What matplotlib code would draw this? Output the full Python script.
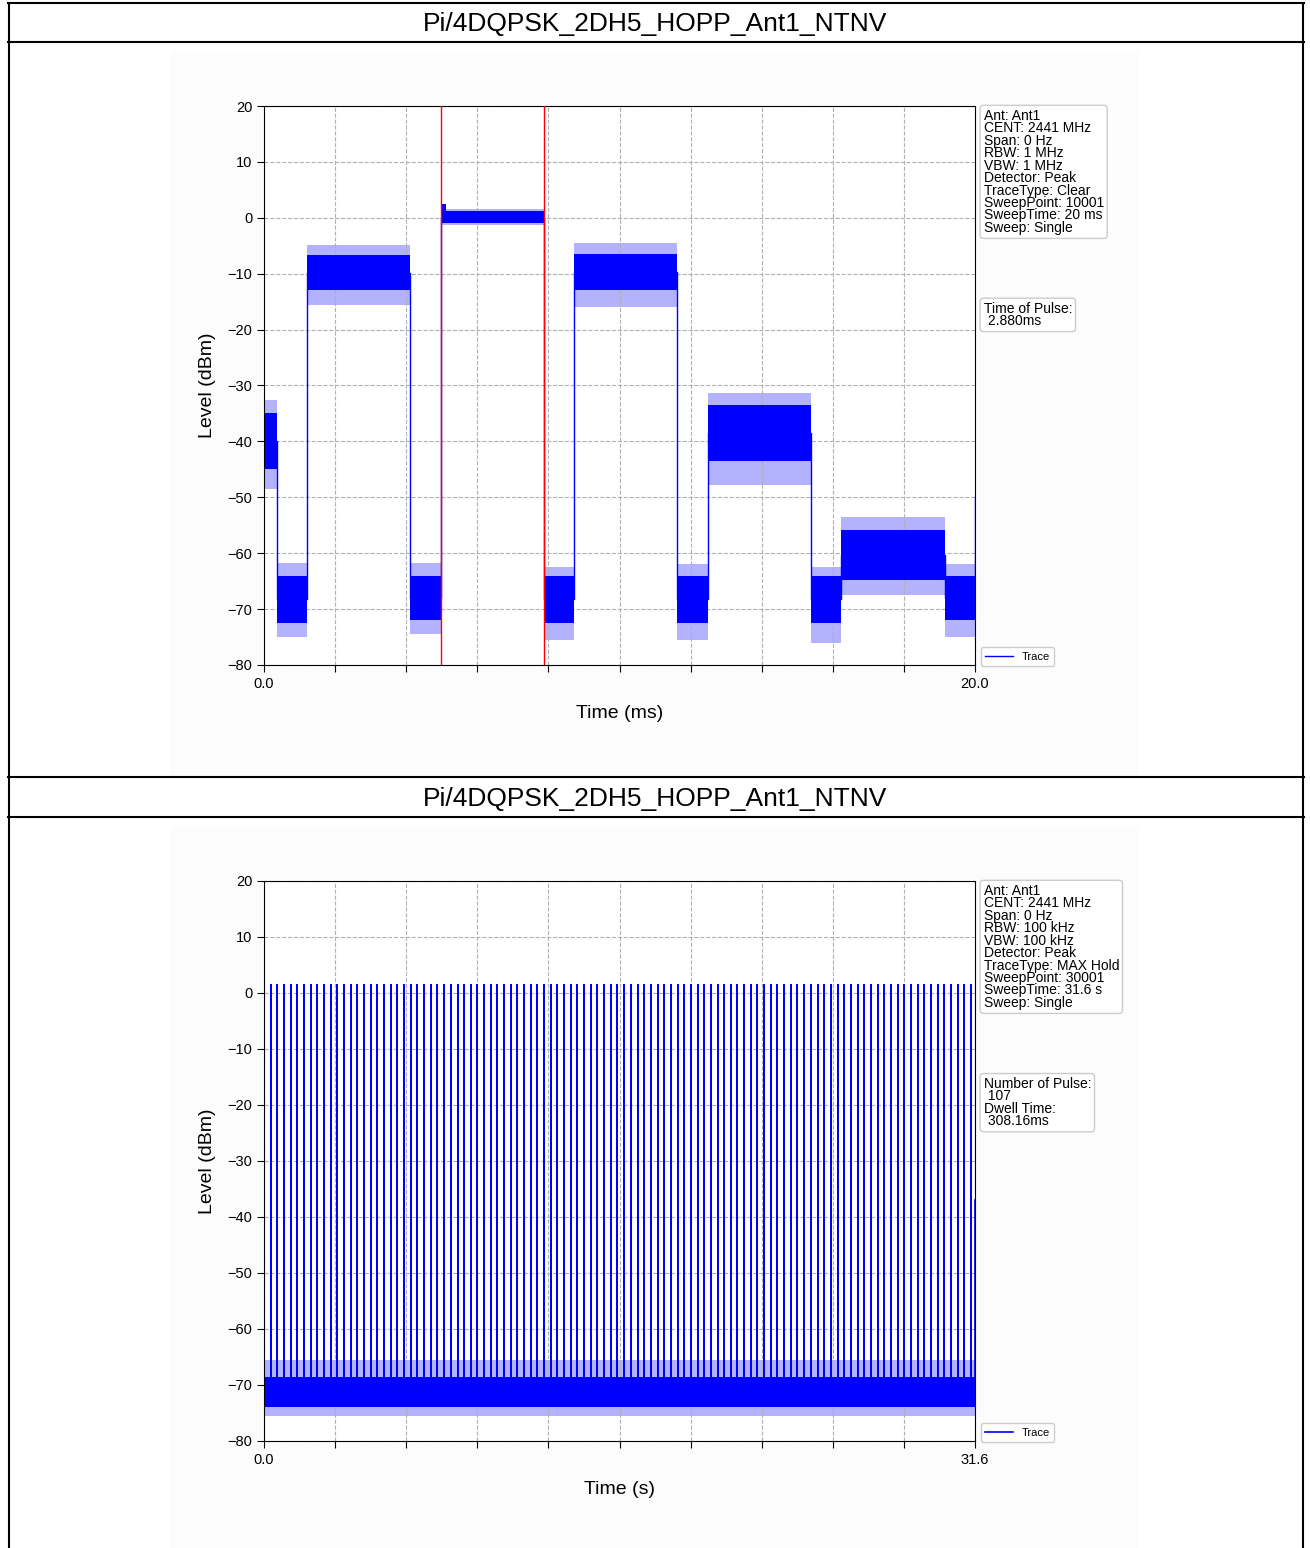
import numpy as np
import matplotlib.pyplot as plt
from matplotlib.lines import Line2D
from matplotlib.patches import Rectangle

plt.rcParams['font.family'] = ['Liberation Sans', 'DejaVu Sans']

title = 'Pi/4DQPSK_2DH5_HOPP_Ant1_NTNV'

# --- top plot: 20 ms zero span, trace read as segments (ms, dBm) ---
seg_start = [0.00, 0.37, 1.21, 4.11, 4.98, 7.88, 8.72, 11.62, 12.49, 15.39, 16.23, 19.16]
seg_end = [0.37, 1.21, 4.11, 4.98, 7.88, 8.72, 11.62, 12.49, 15.39, 16.23, 19.16, 20.00]
seg_min = [-48.5, -75.0, -15.6, -74.5, -1.2, -75.5, -16.0, -75.5, -47.8, -76.0, -67.5, -75.0]
seg_lo = [-45.0, -72.5, -12.9, -72.0, -0.9, -72.5, -12.9, -72.5, -43.5, -72.5, -64.8, -72.0]
seg_hi = [-35.0, -64.0, -6.7, -64.0, 1.2, -64.0, -6.5, -64.0, -33.5, -64.0, -55.8, -64.0]
seg_max = [-32.6, -61.8, -4.9, -61.8, 1.5, -62.5, -4.5, -62.0, -31.3, -62.5, -53.5, -62.0]
bump_t = [4.98, 5.12]      # short overshoot at the start of the marked pulse
bump_level = 2.5
end_level = -50.0
marker_t = [4.98, 7.88]
info1 = ['Ant: Ant1', 'CENT: 2441 MHz', 'Span: 0 Hz', 'RBW: 1 MHz', 'VBW: 1 MHz',
         'Detector: Peak', 'TraceType: Clear', 'SweepPoint: 10001',
         'SweepTime: 20 ms', 'Sweep: Single']
result1 = ['Time of Pulse:', ' 2.880ms']

# --- bottom plot: 31.6 s max hold, pulse times (s) ---
pulse_t = [0.00, 0.30, 0.59, 0.89, 1.19, 1.48, 1.78, 2.07, 2.37, 2.67,
           2.96, 3.26, 3.56, 3.85, 4.15, 4.45, 4.74, 5.04, 5.34, 5.63,
           5.93, 6.22, 6.52, 6.82, 7.11, 7.41, 7.71, 8.00, 8.30, 8.60,
           8.89, 9.19, 9.48, 9.78, 10.08, 10.37, 10.67, 10.97, 11.26, 11.56,
           11.86, 12.15, 12.45, 12.75, 13.04, 13.34, 13.63, 13.93, 14.23, 14.52,
           14.82, 15.12, 15.41, 15.71, 16.01, 16.30, 16.60, 16.89, 17.19, 17.49,
           17.78, 18.08, 18.38, 18.67, 18.97, 19.27, 19.56, 19.86, 20.16, 20.45,
           20.75, 21.04, 21.34, 21.64, 21.93, 22.23, 22.53, 22.82, 23.12, 23.42,
           23.71, 24.01, 24.30, 24.60, 24.90, 25.19, 25.49, 25.79, 26.08, 26.38,
           26.68, 26.97, 27.27, 27.57, 27.86, 28.16, 28.45, 28.75, 29.05, 29.34,
           29.64, 29.94, 30.23, 30.53, 30.83, 31.12, 31.42]
pulse_top = 1.5
floor_min, floor_lo, floor_hi, floor_max = -75.5, -74.0, -68.5, -65.5
floor_mid = -71.5
end_level2 = -37.0
info2 = ['Ant: Ant1', 'CENT: 2441 MHz', 'Span: 0 Hz', 'RBW: 100 kHz', 'VBW: 100 kHz',
         'Detector: Peak', 'TraceType: MAX Hold', 'SweepPoint: 30001',
         'SweepTime: 31.6 s', 'Sweep: Single']
result2 = ['Number of Pulse:', ' 107', 'Dwell Time:', ' 308.16ms']

W, H = 1310, 1548
fig = plt.figure(figsize=(W / 100, H / 100), dpi=100)


def fx(px):
    return px / W


def fy(py):
    return 1 - py / H


# faint background of the embedded chart images
for top, bot in [(52, 775), (827, 1548)]:
    fig.add_artist(Rectangle((fx(171), fy(bot)), fx(1137) - fx(171), fy(top) - fy(bot),
                             transform=fig.transFigure, color='#fcfcfc', zorder=-1))

# table frame
for y in [3, 42, 777, 817]:
    fig.add_artist(Line2D([fx(8), fx(1304)], [fy(y), fy(y)], color='black', lw=1.5))
for x in [9, 1303]:
    fig.add_artist(Line2D([fx(x), fx(x)], [fy(3), 0], color='black', lw=1.5))
fig.text(0.5, fy(24), title, ha='center', va='center', fontsize=19)
fig.text(0.5, fy(799), title, ha='center', va='center', fontsize=19)

ax1 = fig.add_axes([264 / W, 1 - 665 / H, 711 / W, 559 / H])
ax2 = fig.add_axes([264 / W, 1 - 1441 / H, 711 / W, 560 / H])


def style(ax, xmax, xlabel, info, result):
    ax.set_xlim(0, xmax)
    ax.set_ylim(-80, 20)
    ax.set_yticks(range(-80, 21, 10))
    ax.set_xticks(np.linspace(0, xmax, 11))
    ax.set_xticklabels(['0.0'] + [''] * 9 + ['%.1f' % xmax])
    ax.grid(True, ls='--', color='#b0b0b0', lw=0.8)
    ax.tick_params(labelsize=10.5, length=5)
    ax.set_xlabel(xlabel, fontsize=14, labelpad=10)
    ax.set_ylabel('Level (dBm)', fontsize=14, labelpad=8)
    box = dict(boxstyle='round,pad=0.25', fc='white', ec='#cccccc', lw=1)
    ax.text(1.012, 0.995, '\n'.join(info), transform=ax.transAxes, va='top', ha='left',
            fontsize=10, linespacing=0.86, bbox=box)
    ax.text(1.012, 0.65, '\n'.join(result), transform=ax.transAxes, va='top', ha='left',
            fontsize=10, linespacing=0.86, bbox=box)
    ax.legend(loc='lower left', bbox_to_anchor=(1.0, -0.012), fontsize=8,
              handlelength=2.5, borderpad=0.4, framealpha=1, edgecolor='#cccccc')


# top trace
tx, ty = [], []
for s, e, mn, lo, hi, mx in zip(seg_start, seg_end, seg_min, seg_lo, seg_hi, seg_max):
    ax1.fill_between([s, e], [mn, mn], [mx, mx], color='blue', alpha=0.3, lw=0)
    ax1.fill_between([s, e], [lo, lo], [hi, hi], color='blue', lw=0, zorder=2.5)
    mid = (lo + hi) / 2
    tx += [s, e]
    ty += [mid, mid]
tx.append(seg_end[-1])
ty.append(end_level)
ax1.fill_between(bump_t, [seg_lo[4]] * 2, [bump_level] * 2, color='blue', lw=0, zorder=2.5)
ax1.plot(tx, ty, color='blue', lw=1, label='Trace')
for t in marker_t:
    ax1.axvline(t, color='red', lw=1, zorder=3)
style(ax1, 20.0, 'Time (ms)', info1, result1)

# bottom trace
ax2.fill_between([0, 31.6], floor_min, floor_max, color='blue', alpha=0.3, lw=0)
ax2.fill_between([0, 31.6], floor_lo, floor_hi, color='blue', lw=0, zorder=2.5)
px, py = [], []
for t in pulse_t:
    px += [t, t, t]
    py += [floor_mid, pulse_top, floor_mid]
px += [31.6, 31.6]
py += [floor_mid, end_level2]
ax2.plot(px, py, color='blue', lw=1.2, label='Trace')
style(ax2, 31.6, 'Time (s)', info2, result2)

fig.savefig('out.png', dpi=100)
